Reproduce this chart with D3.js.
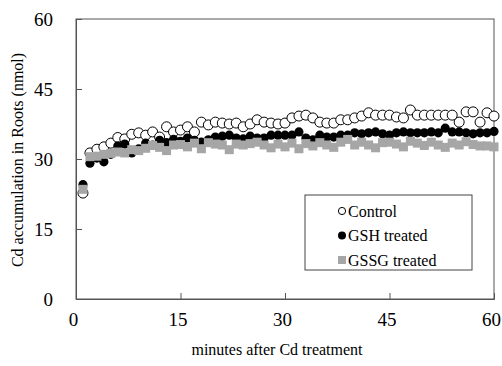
<!DOCTYPE html>
<html>
<head>
<meta charset="utf-8">
<script src="https://cdn.jsdelivr.net/npm/d3@7"></script>
<style>
  body { margin: 0; background: #fff; }
  svg text { font-family: "Liberation Serif", "DejaVu Serif", serif !important; fill: #000; }
</style>
</head>
<body>
<div id="graphic"></div>
<script>
// minutes after Cd treatment, one reading per minute
const minutes = d3.range(1, 61);

const control = [22.7, 31.3, 32.1, 32.6, 33.4, 34.6, 34.3, 35.3, 35.6, 35.1,
  35.8, 34.7, 36.9, 35.8, 36.2, 36.9, 35.8, 37.9, 37.3, 37.9,
  37.7, 37.5, 37.7, 36.9, 37.5, 38.4, 37.9, 37.7, 37.5, 37.7,
  38.8, 39.2, 39.4, 38.8, 37.9, 37.7, 37.7, 38.4, 38.4, 38.8,
  39.2, 39.9, 39.4, 39.4, 39.4, 39.0, 38.8, 40.5, 39.4, 39.4,
  39.4, 39.4, 39.4, 39.4, 37.9, 40.1, 40.1, 37.9, 39.9, 39.2];

const gshTreated = [24.5, 29.1, 30.2, 29.4, 31.0, 32.8, 33.2, 31.3, 32.2, 33.4,
  33.0, 34.0, 33.5, 34.2, 33.8, 34.5, 34.0, 33.6, 34.1, 34.7,
  34.9, 35.1, 34.5, 34.3, 34.9, 34.5, 34.5, 35.1, 35.1, 35.1,
  35.1, 35.8, 34.5, 34.1, 35.1, 34.7, 34.7, 35.1, 35.1, 35.6,
  35.4, 35.6, 35.8, 35.4, 35.1, 35.6, 35.8, 35.6, 35.6, 35.6,
  35.8, 35.6, 36.6, 35.8, 35.8, 35.6, 35.4, 35.6, 35.6, 35.9];

const gssgTreated = [23.5, 30.5, 30.6, 31.0, 31.2, 31.5, 31.3, 32.0, 31.8, 32.3,
  32.9, 32.5, 31.8, 33.0, 33.1, 32.6, 33.4, 32.2, 33.5, 33.2,
  33.0, 32.0, 33.2, 33.0, 33.3, 33.6, 33.0, 32.4, 33.2, 32.6,
  33.4, 32.2, 33.3, 32.8, 33.5, 33.0, 32.5, 33.6, 34.2, 33.0,
  33.6, 33.0, 32.4, 33.5, 33.6, 33.2, 32.6, 33.8, 33.4, 32.9,
  33.6, 33.0, 32.5, 33.4, 33.0, 33.7, 33.1, 32.8, 32.8, 32.6];

const xTicks = [0, 15, 30, 45, 60];
const yTicks = [0, 15, 30, 45, 60];
const seriesNames = ['Control', 'GSH treated', 'GSSG treated'];

const serif = '"Liberation Serif", "DejaVu Serif", serif';

// set the dimensions and margins of the graph
const width = 502, height = 366;
const margin = { top: 19, right: 8, bottom: 67, left: 76 };
const innerW = width - margin.left - margin.right;
const innerH = height - margin.top - margin.bottom;

const svg = d3.select('#graphic').append('svg')
  .attr('width', width)
  .attr('height', height)
  .style('font-family', serif);

const g = svg.append('g')
  .attr('transform', 'translate(' + margin.left + ',' + margin.top + ')');

const x = d3.scaleLinear().domain([0, 60]).range([0, innerW]);
const y = d3.scaleLinear().domain([0, 60]).range([innerH, 0]);

// frame
g.append('rect')
  .attr('width', innerW)
  .attr('height', innerH)
  .attr('fill', 'none')
  .attr('stroke', '#555')
  .attr('stroke-width', 1);

// axes, ticks pointing inwards
const xAxis = d3.axisBottom(x).tickValues(xTicks).tickSize(-6).tickPadding(14);
const yAxis = d3.axisLeft(y).tickValues(yTicks).tickSize(-6).tickPadding(23);

g.append('g')
  .attr('transform', 'translate(0,' + innerH + ')')
  .call(xAxis)
  .attr('font-family', null)
  .call(a => a.select('.domain').attr('stroke', '#555'))
  .call(a => a.selectAll('.tick line').attr('stroke', '#555'))
  .call(a => a.selectAll('.tick text')
    .attr('font-size', 19).style('font-family', serif).attr('dx', -3));

g.append('g')
  .call(yAxis)
  .attr('font-family', null)
  .call(a => a.select('.domain').attr('stroke', '#555'))
  .call(a => a.selectAll('.tick line').attr('stroke', '#555'))
  .call(a => a.selectAll('.tick text')
    .attr('font-size', 19).style('font-family', serif));

// axis titles
svg.append('text')
  .attr('x', margin.left + innerW / 2 - 8)
  .attr('y', 355)
  .attr('text-anchor', 'middle')
  .attr('font-size', 16)
  .style('font-family', serif)
  .text('minutes after Cd treatment');

svg.append('text')
  .attr('transform', 'translate(23,' + (margin.top + 141) + ') rotate(-90)')
  .attr('text-anchor', 'middle')
  .attr('font-size', 16)
  .style('font-family', serif)
  .text('Cd accumulation in Roots (nmol)');

// data marks
g.selectAll('.pt_control')
  .data(minutes)
  .enter().append('circle')
  .attr('class', 'pt_control')
  .attr('cx', (d) => x(d))
  .attr('cy', (d, i) => y(control[i]))
  .attr('r', 5)
  .attr('fill', '#fff')
  .attr('stroke', '#000')
  .attr('stroke-width', 1);

g.selectAll('.pt_gsh')
  .data(minutes)
  .enter().append('circle')
  .attr('class', 'pt_gsh')
  .attr('cx', (d) => x(d))
  .attr('cy', (d, i) => y(gshTreated[i]))
  .attr('r', 4.6)
  .attr('fill', '#000');

const sq = 9;
g.selectAll('.pt_gssg')
  .data(minutes)
  .enter().append('rect')
  .attr('class', 'pt_gssg')
  .attr('x', (d) => x(d) - sq / 2)
  .attr('y', (d, i) => y(gssgTreated[i]) - sq / 2)
  .attr('width', sq)
  .attr('height', sq)
  .attr('fill', '#a6a6a6');

// legend
const legend = svg.append('g').attr('transform', 'translate(305,195)');
legend.append('rect')
  .attr('width', 167)
  .attr('height', 75)
  .attr('fill', '#fff')
  .attr('stroke', '#444');

const item = legend.selectAll('.legend')
  .data(seriesNames)
  .enter().append('g')
  .attr('class', 'legend')
  .attr('transform', (d, i) => 'translate(37,' + (16 + i * 24.5) + ')');

item.each(function (d, i) {
  const el = d3.select(this);
  if (i === 0) {
    el.append('circle').attr('r', 3.6).attr('fill', '#fff').attr('stroke', '#000');
  } else if (i === 1) {
    el.append('circle').attr('r', 4).attr('fill', '#000');
  } else {
    el.append('rect').attr('x', -4).attr('y', -4).attr('width', 8).attr('height', 8).attr('fill', '#a6a6a6');
  }
});

item.append('text')
  .attr('x', 6)
  .attr('y', 5.5)
  .attr('font-size', 16)
  .style('font-family', serif)
  .text((d) => d);
</script>
</body>
</html>
